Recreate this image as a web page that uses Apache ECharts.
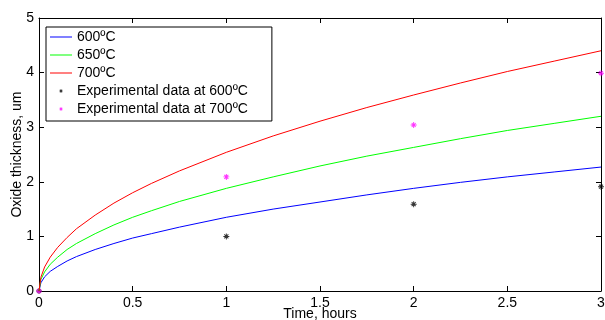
<!DOCTYPE html>
<html>
<head>
<meta charset="utf-8">
<script src="https://cdn.jsdelivr.net/npm/echarts@6/dist/echarts.min.js"></script>
<style>
html,body{margin:0;padding:0;background:#fff;}
#chart{width:605px;height:320px;}
</style>
</head>
<body>
<div id="chart"></div>
<script>
// ---- data ----
var timeHours = [0, 0.01, 0.03, 0.06, 0.1, 0.15, 0.2, 0.3, 0.4, 0.5, 0.6, 0.75, 1, 1.25, 1.5, 1.75, 2, 2.25, 2.5, 2.75, 3];
var model600 = [0, 0.15, 0.26, 0.36, 0.45, 0.55, 0.63, 0.76, 0.87, 0.97, 1.05, 1.17, 1.35, 1.50, 1.63, 1.76, 1.88, 1.99, 2.09, 2.18, 2.27];
var model650 = [0, 0.21, 0.35, 0.49, 0.62, 0.76, 0.87, 1.05, 1.21, 1.35, 1.47, 1.64, 1.88, 2.09, 2.29, 2.47, 2.63, 2.79, 2.94, 3.07, 3.20];
var model700 = [0, 0.25, 0.44, 0.62, 0.80, 0.98, 1.14, 1.39, 1.61, 1.80, 1.97, 2.20, 2.54, 2.84, 3.11, 3.36, 3.59, 3.81, 4.02, 4.21, 4.40];
var expTime = [0, 1, 2, 3];
var exp600 = [0, 1.0, 1.59, 1.91];
var exp700 = [0, 2.09, 3.04, 3.99];
var seriesNames = ['600ºC', '650ºC', '700ºC', 'Experimental data at 600ºC', 'Experimental data at 700ºC'];
var xTicks = {min: 0, max: 3, interval: 0.5};
var yTicks = {min: 0, max: 5, interval: 1};

function pairs(xs, ys) { return xs.map(function (x, i) { return [x, ys[i]]; }); }

var FONT = '"Liberation Sans", Arial, Helvetica, sans-serif';
var star = 'M4.2 0 L5.8 0 L5.8 10 L4.2 10 Z M0 4.2 L10 4.2 L10 5.8 L0 5.8 Z M1.1 2.2 L2.2 1.1 L8.9 7.8 L7.8 8.9 Z M7.8 1.1 L8.9 2.2 L2.2 8.9 L1.1 7.8 Z';
var legendStar = 'path://M0 0 M30 30 M14.2 11 L15.8 11 L15.8 19 L14.2 19 Z M11 14.2 L19 14.2 L19 15.8 L11 15.8 Z M11.9 12.9 L12.9 11.9 L18.1 17.1 L17.1 18.1 Z M17.1 11.9 L18.1 12.9 L12.9 18.1 L11.9 17.1 Z';
var legendLine = 'path://M0 6.5 L22 6.5 L22 7.5 L0 7.5 Z';

var chart = echarts.init(document.getElementById('chart'), null, {renderer: 'canvas'});

function xAxisBase(pos, showLabel) {
  return {
    type: 'value', position: pos, min: xTicks.min, max: xTicks.max, interval: xTicks.interval,
    axisLine: {show: true, onZero: false, lineStyle: {color: '#000', width: 1}},
    axisTick: {show: true, inside: true, length: 5, lineStyle: {color: '#000'}},
    axisLabel: {show: showLabel, color: '#000', fontSize: 14, fontFamily: FONT, margin: 5},
    splitLine: {show: false}
  };
}
function yAxisBase(pos, showLabel) {
  return {
    type: 'value', position: pos, min: yTicks.min, max: yTicks.max, interval: yTicks.interval,
    axisLine: {show: true, onZero: false, lineStyle: {color: '#000', width: 1}},
    axisTick: {show: true, inside: true, length: 5, lineStyle: {color: '#000'}},
    axisLabel: {show: showLabel, color: '#000', fontSize: 14, fontFamily: FONT, margin: 5},
    splitLine: {show: false}
  };
}

var xb = xAxisBase('bottom', true);
xb.name = 'Time, hours';
xb.nameLocation = 'middle';
xb.nameGap = 16;
xb.nameMoveOverlap = false;
xb.nameTextStyle = {color: '#000', fontSize: 14, fontFamily: FONT};
var yl = yAxisBase('left', true);
yl.name = 'Oxide thickness, um';
yl.nameLocation = 'middle';
yl.nameGap = 15;
yl.nameMoveOverlap = false;
yl.nameTextStyle = {color: '#000', fontSize: 14, fontFamily: FONT};

var option = {
  animation: false,
  backgroundColor: '#fff',
  grid: {left: 39, right: 4, top: 18, bottom: 29, containLabel: false, outerBoundsMode: 'none'},
  xAxis: [xb, xAxisBase('top', false)],
  yAxis: [yl, yAxisBase('right', false)],
  legend: {
    orient: 'vertical', left: 46, top: 27,
    padding: [3, 24, 5, 4], itemGap: 4, itemWidth: 22, itemHeight: 14,
    backgroundColor: '#fff', borderColor: '#000', borderWidth: 1, borderRadius: 0,
    textStyle: {color: '#000', fontSize: 14, fontFamily: FONT},
    data: [
      {name: seriesNames[0], icon: legendLine},
      {name: seriesNames[1], icon: legendLine},
      {name: seriesNames[2], icon: legendLine},
      {name: seriesNames[3], icon: legendStar},
      {name: seriesNames[4], icon: legendStar}
    ]
  },
  series: [
    {name: seriesNames[0], type: 'line', symbol: 'none', data: pairs(timeHours, model600),
     lineStyle: {color: '#0000ff', width: 1}, itemStyle: {color: '#0000ff'}},
    {name: seriesNames[1], type: 'line', symbol: 'none', data: pairs(timeHours, model650),
     lineStyle: {color: '#00ff00', width: 1}, itemStyle: {color: '#00ff00'}},
    {name: seriesNames[2], type: 'line', symbol: 'none', data: pairs(timeHours, model700),
     lineStyle: {color: '#ff0000', width: 1}, itemStyle: {color: '#ff0000'}},
    {name: seriesNames[3], type: 'scatter', symbol: 'path://' + star, symbolSize: 6,
     data: pairs(expTime, exp600), itemStyle: {color: '#000'}},
    {name: seriesNames[4], type: 'scatter', symbol: 'path://' + star, symbolSize: 6,
     data: pairs(expTime, exp700), itemStyle: {color: '#ff00ff'}}
  ]
};
chart.setOption(option);
</script>
</body>
</html>
